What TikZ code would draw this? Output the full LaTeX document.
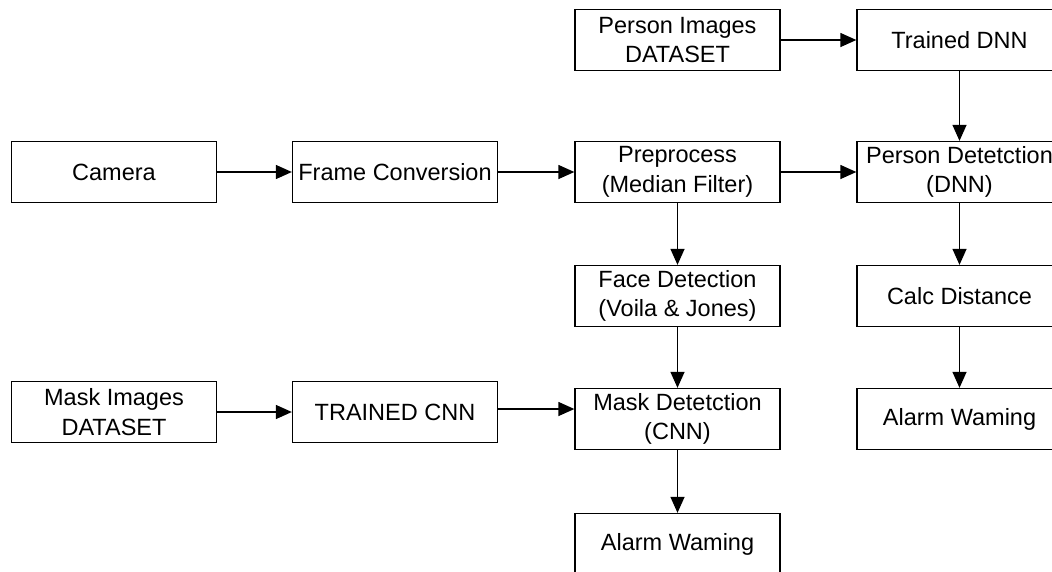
\documentclass[tikz,border=0pt]{standalone}
\usepackage{fontspec}
\setmainfont{Liberation Sans}
\usetikzlibrary{positioning}
\usetikzlibrary{arrows.meta}

\tikzset{
  blk/.style = {draw, line width=1.3pt, minimum width=205pt, minimum height=61pt,
                align=center, inner sep=2pt, font=\fontsize{23.5}{29.5}\selectfont},
  flow/.style = {line width=1.3pt, -{Triangle[length=16pt,width=14pt]}}
}

\begin{document}
\begin{tikzpicture}[x=1pt,y=-1pt]
\useasboundingbox (0,0) rectangle (1052,571);
% top row
\node[blk] (persondata) at (677.5,40) {Person Images\\DATASET};
\node[blk] (dnn) at (959.5,40) {Trained DNN};
% main row
\node[blk] (camera) at (114,172) {Camera};
\node[blk] (frame) at (395,172) {Frame Conversion};
\node[blk] (prep) at (677.5,172) {Preprocess\\(Median Filter)};
\node[blk] (persondet) at (959.5,172) {Person Detetction\\(DNN)};
% middle
\node[blk] (face) at (677.5,296) {Face Detection\\(Voila \& Jones)};
\node[blk] (calc) at (959.5,296) {Calc Distance};
% mask row
\node[blk] (maskdata) at (114,412) {Mask Images\\DATASET};
\node[blk] (cnn) at (395,412) {TRAINED CNN};
\node[blk] (maskdet) at (677.5,419) {Mask Detetction\\(CNN)};
\node[blk] (alarmr) at (959.5,419) {Alarm Waming};
\node[blk] (alarmb) at (677.5,544) {Alarm Waming};

\draw[flow] (persondata) -- (dnn);
\draw[flow] (dnn) -- (persondet);
\draw[flow] (camera) -- (frame);
\draw[flow] (frame) -- (prep);
\draw[flow] (prep) -- (persondet);
\draw[flow] (prep) -- (face);
\draw[flow] (persondet) -- (calc);
\draw[flow] (calc) -- (alarmr);
\draw[flow] (face) -- (maskdet);
\draw[flow] (maskdata) -- (cnn);
\draw[flow] ([yshift=3pt]cnn.east) -- ([yshift=3pt]cnn.east -| maskdet.west);
\draw[flow] (maskdet) -- (alarmb);
\end{tikzpicture}
\end{document}
